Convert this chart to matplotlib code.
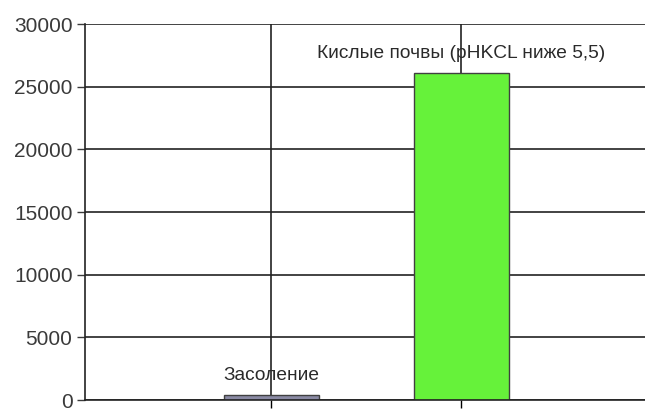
import matplotlib.pyplot as plt

categories = ['Засоление', 'Кислые почвы (pHKCL ниже 5,5)']
values = [420, 26100]
colors = ['#8a8aa4', '#66f23a']

plt.rcParams['font.family'] = ['Liberation Sans', 'DejaVu Sans']

fig = plt.figure(figsize=(6.45, 4.12), dpi=100)
ax = fig.add_axes([85 / 645, 12 / 412, 1 - 85 / 645, 376 / 412])

x = list(range(len(categories)))
ax.set_axisbelow(True)
ax.grid(True, color='#222222', linewidth=1.2)
ax.bar(x, values, width=0.5, color=colors, edgecolor='#404040', linewidth=1.0)

for xi, v, name in zip(x, values, categories):
    ax.annotate(name, (xi, v), xytext=(0, 10.5), textcoords='offset points',
                ha='center', va='baseline', fontsize=13.8, color='#2a2a2a')

ax.set_ylim(0, 30000)
ax.set_yticks(range(0, 30001, 5000))
ax.set_xlim(-0.979, 1.968)
ax.set_xticks(x)
ax.set_xticklabels([])
ax.tick_params(axis='y', labelsize=15, colors='#3a3a3a', length=6, width=1, pad=3)
ax.tick_params(axis='x', length=6, width=1, direction='out')
for s in ['top', 'right']:
    ax.spines[s].set_visible(False)
for s in ['left', 'bottom']:
    ax.spines[s].set_linewidth(1.2)
    ax.spines[s].set_color('#222222')

fig.savefig('out.png', dpi=100)
